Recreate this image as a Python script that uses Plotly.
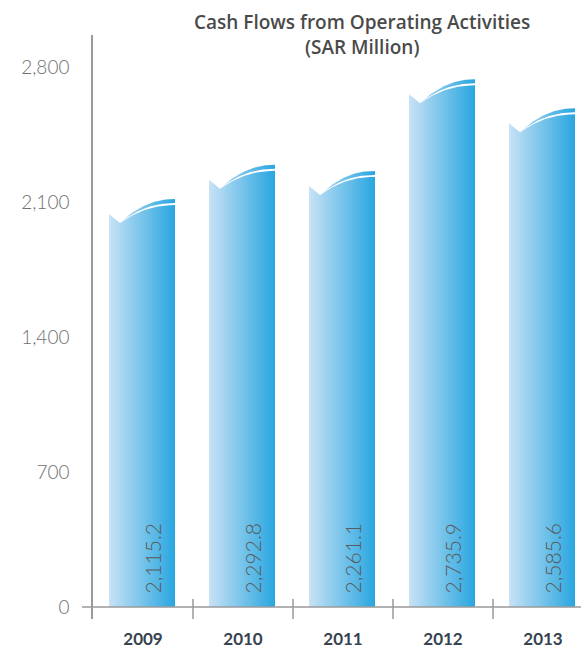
import numpy as np
import plotly.graph_objects as go

years = ["2009", "2010", "2011", "2012", "2013"]
values = [2115.2, 2292.8, 2261.1, 2735.9, 2585.6]
labels = ["2,115.2", "2,292.8", "2,261.1", "2,735.9", "2,585.6"]
y_ticks = [0, 700, 1400, 2100, 2800]
y_tick_text = ["0", "700", "1,400", "2,100", "2,800"]
title_text = "Cash Flows from Operating Activities<br>(SAR Million)"

W, H = 581, 648
ML, MR, MT, MB = 93, 0, 35, 29
plot_w = W - ML - MR
plot_h = H - MT - MB

# axis ranges
x_range = [-0.5, -0.5 + plot_w / 100.0]
k = 540 / 2800.0  # px per unit
y_low = -12 / k
y_top = (plot_h - 12) / k
PX = 1 / k          # data units per px vertically
PXX = 1 / 100.0     # data units per px horizontally

LEFT_C = "rgb(200,226,245)"
RIGHT_C = "rgb(40,166,224)"

fig = go.Figure()

half = 33 * PXX
p = 2.2
for i, v in enumerate(values):
    xc = i - 0.01
    xl, xr = xc - half, xc + half
    # body
    xd = xl + 11 * PXX
    u = np.linspace(0, 1, 40)
    bx = xd + (xr - xd) * u
    by = v - (6 + 18 * (1 - u) ** p) * PX
    xs = [xl, xl] + list(bx) + [xr, xl]
    ys = [0, v - 15 * PX] + list(by) + [0, 0]
    grad = dict(type="horizontal", colorscale=[[0, LEFT_C], [1, RIGHT_C]], start=xl, stop=xr)
    fig.add_trace(go.Scatter(x=xs, y=ys, fill="toself", mode="lines", line=dict(width=0),
                             fillgradient=grad, hoverinfo="skip", showlegend=False))
    # ribbon
    xt = xl + 13 * PXX
    rx = xt + (xr - xt) * u
    w = (1 - u) ** p
    top = v - 22 * w * PX
    bot = v - (4 + 18 * w) * PX
    xs2 = list(rx) + list(rx[::-1])
    ys2 = list(top) + list(bot[::-1])
    fig.add_trace(go.Scatter(x=xs2, y=ys2, fill="toself", mode="lines", line=dict(width=0),
                             fillgradient=grad, hoverinfo="skip", showlegend=False))
    fig.add_annotation(x=i + 0.09, y=60, text=labels[i], textangle=-90, showarrow=False,
                       xanchor="center", yanchor="bottom",
                       font=dict(family="Lato", size=21, color="#5a5a5a", weight=300))

def ypaper(px_from_bottom):
    return px_from_bottom / plot_h

fig.add_annotation(xref="paper", yref="paper", x=(362 - ML) / plot_w,
                   y=(H - MB - 34) / plot_h, text=title_text, showarrow=False,
                   xanchor="center", yanchor="middle",
                   font=dict(family="Open Sans", size=19, color="#4a4a4a", weight=600))

zero_p = (0 - y_low) / (y_top - y_low)
shapes = [dict(type="line", xref="paper", yref="paper", x0=-11 / plot_w, x1=1,
               y0=zero_p, y1=zero_p, line=dict(color="#9a9a9a", width=1.5))]
for i in range(len(years) - 1):
    xp = (i + 0.5 - x_range[0]) / (x_range[1] - x_range[0])
    shapes.append(dict(type="line", xref="paper", yref="paper", x0=xp, x1=xp,
                       y0=0, y1=ypaper(20), line=dict(color="#9a9a9a", width=1.5)))

fig.update_layout(
    width=W, height=H,
    margin=dict(l=ML, r=MR, t=MT, b=MB),
    paper_bgcolor="white", plot_bgcolor="white",
    shapes=shapes,
    xaxis=dict(range=x_range, tickvals=list(range(len(years))), ticktext=years,
               showgrid=False, zeroline=False, showline=False, ticks="",
               ticklabelstandoff=8,
               tickfont=dict(family="Lato", size=17, color="#36424f", weight="bold")),
    yaxis=dict(range=[y_low, y_top], tickvals=y_ticks, ticktext=y_tick_text,
               showgrid=False, zeroline=False, showline=True, linecolor="#9a9a9a", linewidth=1.5,
               ticks="", ticklabelstandoff=18,
               tickfont=dict(family="Lato", size=19, color="#707070", weight=300)),
)

fig.write_html("out.html")
